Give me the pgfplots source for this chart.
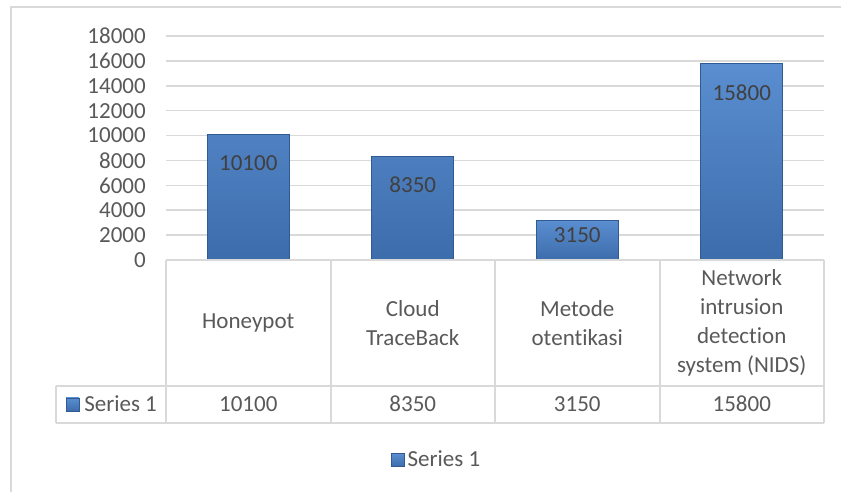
\documentclass[border=0pt]{standalone}
\usepackage{fontspec}
\setmainfont{Carlito}[Ligatures={NoCommon}, Contextuals={NoAlternate}]
\usepackage{pgfplots}
\pgfplotsset{compat=1.18}
\definecolor{txt}{HTML}{595959}
\definecolor{lab}{HTML}{404040}
\definecolor{gridc}{HTML}{D9D9D9}
\definecolor{bartop}{HTML}{5A8ED0}
\definecolor{barbot}{HTML}{3D6CAB}
\definecolor{baredge}{HTML}{2F5B92}
\newcommand{\Q}[2]{({#1*0.75pt},{(492-#2)*0.75pt})}
\newcommand{\F}{\fontsize{17.25}{21.75}\selectfont}
\begin{document}
\begin{tikzpicture}
\useasboundingbox (0,0) rectangle (630.75pt,369pt);
\draw[gridc, line width=1.5pt] \Q{11}{492} -- \Q{11}{7} -- \Q{841}{7};
\begin{axis}[
  at={(124.5pt,174pt)}, anchor=south west,
  scale only axis, width=493.5pt, height=168pt,
  xmin=-0.5, xmax=3.5, ymin=0, ymax=18000,
  ytick={0,2000,...,18000},
  xtick={0,1,2,3},
  xticklabels={Honeypot,{Cloud\\TraceBack},{Metode\\ot\kern0pt ent\kern0pt ikasi},{Network\\intrusion\\detection\\system (NIDS)}},
  xticklabel style={anchor=center, align=center, yshift=-47.25pt, font=\F, text=txt},
  yticklabel style={anchor=east, inner sep=0pt, xshift=-15pt, font=\F, text=txt},
  /pgf/number format/assume math mode=true,
  /pgf/number format/1000 sep={},
  scaled y ticks=false,
  ymajorgrids, grid style={gridc, line width=1.1pt},
  axis line style={draw=none},
  major tick length=0pt,
  clip=false,
  legend style={at={(0.412,-0.893)}, anchor=center, draw=none, font=\F, text=txt, inner sep=0pt},
  legend image code/.code={\draw[top color=bartop,bottom color=barbot,draw=baredge,line width=0.5pt] (0pt,-4.9pt) rectangle (9.75pt,4.9pt);},
]
\addplot[ybar, bar width=61.5pt, top color=bartop, bottom color=barbot, draw=baredge, line width=0.6pt,
  nodes near coords,
  every node near coord/.append style={anchor=center, yshift=-21.75pt, font=\F, text=lab}]
  coordinates {(0,10100) (1,8350) (3,15800)};
\addlegendentry{Series 1}
\addplot[ybar, bar width=61.5pt, top color=bartop, bottom color=barbot, draw=baredge, line width=0.6pt,
  nodes near coords,
  every node near coord/.append style={anchor=center, yshift=-10.5pt, font=\F, text=lab}, forget plot]
  coordinates {(2,3150)};
\node[font=\F, text=txt] at (axis cs:0,0) [yshift=-108pt] {10100};
\node[font=\F, text=txt] at (axis cs:1,0) [yshift=-108pt] {8350};
\node[font=\F, text=txt] at (axis cs:2,0) [yshift=-108pt] {3150};
\node[font=\F, text=txt] at (axis cs:3,0) [yshift=-108pt] {15800};
\end{axis}
\begin{scope}[gridc, line width=1.5pt]
\draw \Q{166}{260} -- \Q{824}{260};
\draw \Q{56}{386} -- \Q{824}{386};
\draw \Q{56}{423} -- \Q{824}{423};
\draw \Q{56}{386} -- \Q{56}{423};
\foreach \x in {166,331,495,660,824} {\draw \Q{\x}{260} -- \Q{\x}{423};}
\end{scope}
\draw[top color=bartop,bottom color=barbot,draw=baredge,line width=0.5pt] \Q{66}{411} rectangle \Q{79}{398};
\node[anchor=west, inner sep=0pt, font=\F, text=txt] at \Q{84}{404} {Series 1};
\end{tikzpicture}
\end{document}
